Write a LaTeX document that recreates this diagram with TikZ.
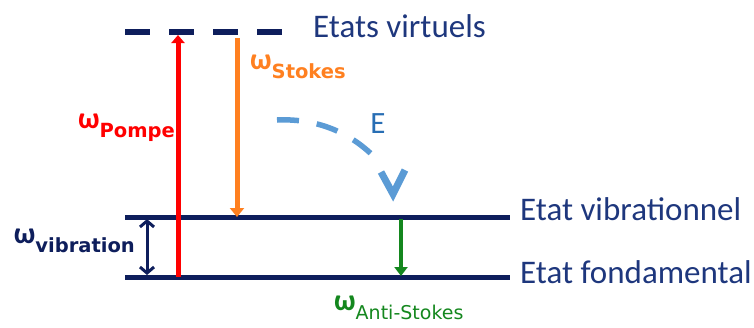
\documentclass[tikz,border=0pt]{standalone}
\usepackage{fontspec}
\setmainfont{Carlito}
\newfontfamily\subfont{DejaVu Sans}
\usetikzlibrary{arrows.meta}
\definecolor{navy}{RGB}{14,30,92}
\definecolor{txtblue}{RGB}{30,55,125}
\definecolor{myorange}{RGB}{255,128,32}
\definecolor{mygreen}{RGB}{20,135,30}
\definecolor{lblue}{RGB}{91,155,213}
\definecolor{eblue}{RGB}{40,110,180}
\newcommand{\omsub}[1]{ω\raisebox{-9pt}{\subfont\bfseries\fontsize{19.5}{20}\selectfont #1}}
\tikzset{
  level/.style={draw=navy,line width=5pt},
  lvllabel/.style={anchor=base west,text=txtblue,font=\fontsize{33}{36}\selectfont,inner sep=0pt},
  omlabel/.style={font=\bfseries\fontsize{30}{32}\selectfont,inner sep=0pt}
}
\begin{document}
\begin{tikzpicture}[x=1pt,y=-1pt]
\useasboundingbox (0,0) rectangle (754,327);
% levels
\draw[level,dash pattern=on 25pt off 19pt,line width=6pt] (125,32) -- (282,32);
\coordinate (vL) at (125,217); \coordinate (vR) at (510,217);
\coordinate (gL) at (125,277); \coordinate (gR) at (510,277);
\draw[level] (vL) -- (vR);
\draw[level] (gL) -- (gR);
\node[lvllabel] (virt) at (313,37) {Etats virtuels};
\node[lvllabel] (vib) at (520,220) {Etat vibrationnel};
\node[lvllabel] (fond) at (520,283) {Etat fondamental};
% arrows
\coordinate (p0) at (178,277); \coordinate (p1) at (178,35);
\draw[red,line width=5pt,-{Triangle[length=8pt,width=13pt]}] (p0) -- (p1);
\coordinate (s0) at (237,38); \coordinate (s1) at (237,217);
\draw[myorange,line width=5pt,-{Triangle[length=9pt,width=14pt]}] (s0) -- (s1);
\coordinate (a0) at (401,219); \coordinate (a1) at (401,276);
\draw[mygreen,line width=4.5pt,-{Triangle[length=9pt,width=13pt]}] (a0) -- (a1);
\coordinate (w0) at (147,219); \coordinate (w1) at (147,275);
\draw[navy,line width=3pt,{Straight Barb[length=6pt,width=14pt]}-{Straight Barb[length=6pt,width=14pt]}] (w0) -- (w1);
% E arrow
\coordinate (e0) at (277,120); \coordinate (e1) at (379,162);
\coordinate (eL) at (381,172); \coordinate (eT) at (393,194); \coordinate (eR) at (405,170);
\draw[lblue,line width=5.5pt,dash pattern=on 22pt off 18pt] (e0) .. controls (320,118) and (355,135) .. (e1);
\draw[lblue,line width=7pt,line join=miter,miter limit=4] (eL) -- (eT) -- (eR);
\node[text=eblue,font=\fontsize{31}{32}\selectfont,anchor=base,inner sep=0pt] (E) at (378,133) {E};
% omega labels
\node[omlabel,text=red,anchor=base east] (pom) at (175,128) {\omsub{Pompe}};
\node[omlabel,text=myorange,anchor=base west] (sto) at (250,69) {\omsub{Stokes}};
\node[omlabel,text=navy,anchor=base east] (vibl) at (135,243) {\omsub{vibration}};
\node[omlabel,text=mygreen,anchor=base west] (anti) at (334,310) {ω\raisebox{-9pt}{\subfont\mdseries\fontsize{19}{20}\selectfont Anti-Stokes}};
\end{tikzpicture}
\end{document}
